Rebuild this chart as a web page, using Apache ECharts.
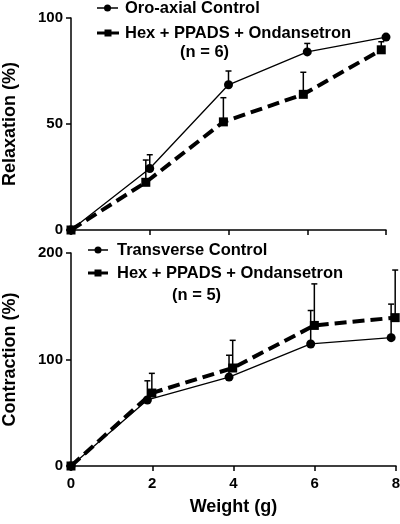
<!DOCTYPE html>
<html>
<head>
<meta charset="utf-8">
<script src="https://cdn.jsdelivr.net/npm/echarts@6/dist/echarts.min.js"></script>
<style>html,body{margin:0;padding:0;background:#fff}#c{width:400px;height:524px}</style>
</head>
<body>
<div id="c"></div>
<script>
// ---- Data ----
const topLegend = ['Oro-axial Control', 'Hex + PPADS + Ondansetron', '(n = 6)'];
const botLegend = ['Transverse Control', 'Hex + PPADS + Ondansetron', '(n = 5)'];
const xTicks = [0, 2, 4, 6, 8];
const topYTicks = [0, 50, 100];
const botYTicks = [0, 100, 200];

const oroX = [0, 2.0, 4.0, 6.0, 8.0];
const oroY = [0, 29, 68.5, 84, 91];
const oroUpper = [0, 35.5, 75, 88, 91];
const topHexX = [0, 1.9, 3.87, 5.9, 7.88];
const topHexY = [0, 22.5, 51, 64, 85];
const topHexUpper = [0, 33, 62.4, 74.4, 88.8];

const transX = [0, 1.88, 3.89, 5.9, 7.88];
const transY = [0, 62, 83.5, 114.6, 120.5];
const transUpper = [0, 80, 104, 146, 152];
const botHexX = [0, 1.99, 3.98, 5.99, 7.98];
const botHexY = [0, 68.5, 92, 132, 139.3];
const botHexUpper = [0, 87, 118, 171, 184];

const F = '"Liberation Sans", Arial, sans-serif';
const pairs = (xs, ys) => xs.map((x, i) => [x, ys[i]]);
const triples = (xs, ys, us) => xs.map((x, i) => [x, ys[i], us[i]]);

function errRender(params, api) {
  const x = api.value(0), m = api.value(1), u = api.value(2);
  if (u <= m) return null;
  const p0 = api.coord([x, m]);
  const p1 = api.coord([x, u]);
  const st = {stroke: '#000', lineWidth: 1.5};
  return {type: 'group', children: [
    {type: 'line', shape: {x1: p0[0], y1: p0[1], x2: p1[0], y2: p1[1]}, style: st},
    {type: 'line', shape: {x1: p1[0] - 3, y1: p1[1], x2: p1[0] + 3, y2: p1[1]}, style: st}
  ]};
}

function yAxis(gi, max, interval, name, gap) {
  return {
    gridIndex: gi, type: 'value', min: 0, max: max, interval: interval,
    axisLine: {show: true, lineStyle: {color: '#000', width: 1.5}},
    axisTick: {show: true, inside: false, length: 5, lineStyle: {color: '#000', width: 1.5}},
    axisLabel: {color: '#000', fontFamily: F, fontWeight: 'bold', fontSize: 15, margin: 8},
    splitLine: {show: false},
    name: name, nameLocation: 'middle', nameGap: gap, nameRotate: 90,
    nameTextStyle: {color: '#000', fontFamily: F, fontWeight: 'bold', fontSize: 18}
  };
}
function xAxis(gi, showLabels, name) {
  return {
    gridIndex: gi, type: 'value', min: 0, max: 8, interval: 2,
    axisLine: {show: true, onZero: false, lineStyle: {color: '#000', width: 1.5}},
    axisTick: {show: true, inside: false, length: 5, lineStyle: {color: '#000', width: 1.5}},
    axisLabel: {show: showLabels, color: '#000', fontFamily: F, fontWeight: 'bold', fontSize: 15, margin: 10},
    splitLine: {show: false},
    name: name, nameLocation: 'middle', nameGap: 32,
    nameTextStyle: {color: '#000', fontFamily: F, fontWeight: 'bold', fontSize: 18}
  };
}

function solidSeries(xi, data) {
  return {type: 'line', xAxisIndex: xi, yAxisIndex: xi, data: data, symbol: 'circle', symbolSize: 9,
    itemStyle: {color: '#000'}, lineStyle: {color: '#000', width: 1.3}, z: 3, animation: false};
}
function dashSeries(xi, data) {
  return {type: 'line', xAxisIndex: xi, yAxisIndex: xi, data: data, symbol: 'rect', symbolSize: 9,
    itemStyle: {color: '#000'}, lineStyle: {color: '#000', width: 4, type: [12, 6]}, z: 3, animation: false};
}
function errSeries(xi, data) {
  return {type: 'custom', xAxisIndex: xi, yAxisIndex: xi, data: data, renderItem: errRender, z: 2,
    clip: false, animation: false, encode: {x: 0, y: [1, 2]}};
}

function legendItem(x1, x2, y, dashed, tx, text) {
  const mid = (x1 + x2) / 2;
  const items = [
    {type: 'line', shape: {x1: x1, y1: y, x2: x2, y2: y}, style: {stroke: '#000', lineWidth: dashed ? 3 : 1.5}}
  ];
  if (dashed) items.push({type: 'rect', shape: {x: mid - 3.5, y: y - 3.5, width: 7, height: 7}, style: {fill: '#000'}});
  else items.push({type: 'circle', shape: {cx: mid, cy: y, r: 3.5}, style: {fill: '#000'}});
  items.push({type: 'text', x: tx, y: y, style: {text: text, fill: '#000', font: 'bold 16.5px ' + F, textVerticalAlign: 'middle'}});
  return items;
}

const graphics = [].concat(
  legendItem(97, 118, 8, false, 125, topLegend[0]),
  legendItem(97, 119, 33, true, 125, topLegend[1]),
  [{type: 'text', x: 180, y: 52, style: {text: topLegend[2], fill: '#000', font: 'bold 16.5px ' + F, textVerticalAlign: 'middle'}}],
  legendItem(88, 108, 250, false, 117, botLegend[0]),
  legendItem(88, 108, 273, true, 117, botLegend[1]),
  [{type: 'text', x: 172, y: 295, style: {text: botLegend[2], fill: '#000', font: 'bold 16.5px ' + F, textVerticalAlign: 'middle'}}]
);

const chart = echarts.init(document.getElementById('c'), null, {renderer: 'canvas'});
chart.setOption({
  backgroundColor: '#fff',
  animation: false,
  grid: [
    {left: 71, right: 14, top: 18, height: 212, containLabel: false, outerBoundsMode: 'none'},
    {left: 71, right: 4, top: 253, height: 213, containLabel: false, outerBoundsMode: 'none'}
  ],
  xAxis: [xAxis(0, false, ''), xAxis(1, true, 'Weight (g)')],
  yAxis: [yAxis(0, topYTicks[2], topYTicks[1], 'Relaxation (%)', 52), yAxis(1, botYTicks[2], botYTicks[1], 'Contraction (%)', 52)],
  series: [
    errSeries(0, triples(oroX, oroY, oroUpper)),
    errSeries(0, triples(topHexX, topHexY, topHexUpper)),
    solidSeries(0, pairs(oroX, oroY)),
    dashSeries(0, pairs(topHexX, topHexY)),
    errSeries(1, triples(transX, transY, transUpper)),
    errSeries(1, triples(botHexX, botHexY, botHexUpper)),
    solidSeries(1, pairs(transX, transY)),
    dashSeries(1, pairs(botHexX, botHexY))
  ],
  graphic: graphics
});
</script>
</body>
</html>
